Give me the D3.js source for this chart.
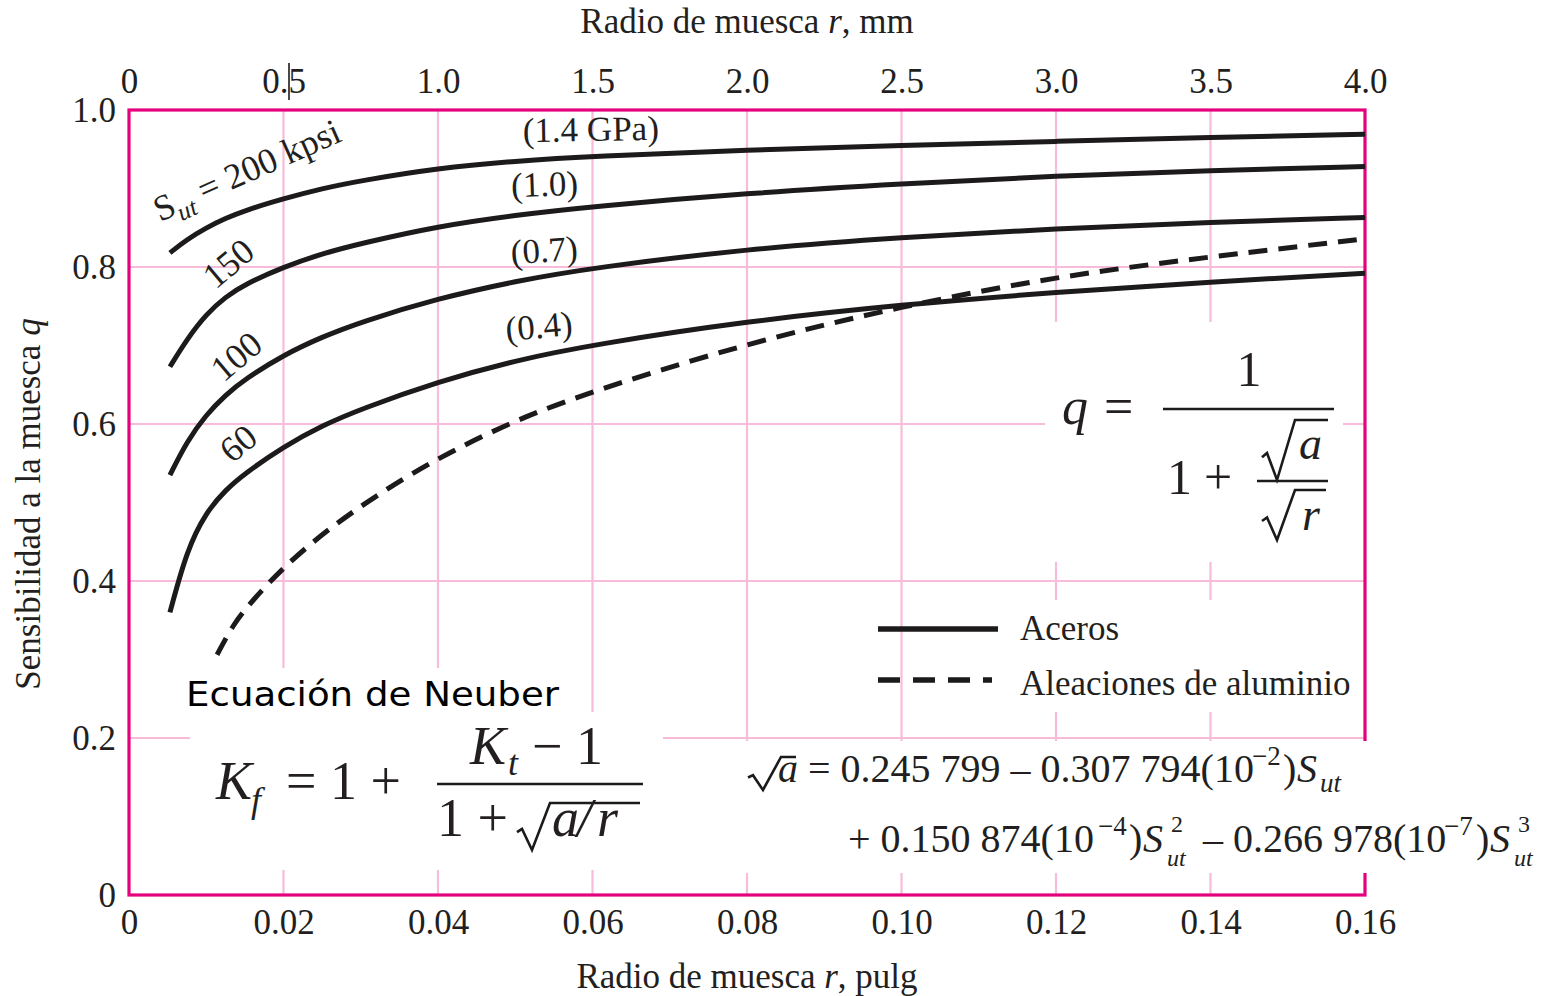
<!DOCTYPE html>
<html>
<head>
<meta charset="utf-8">
<script src="https://cdn.jsdelivr.net/npm/d3@7"></script>
<style>
  body { margin: 0; background: #fff; }
  svg { display: block; }
  .serif { font-family: "Liberation Serif", "Times New Roman", serif; fill: #231f20; }
  .tick text { font-family: "Liberation Serif", "Times New Roman", serif; font-size: 35px; fill: #231f20; }
</style>
</head>
<body>
<div id="chart"></div>
<script>
// notch radius r in inches, and notch sensitivity q
const rSteel = [0.0053, 0.0075, 0.01, 0.0125, 0.015, 0.02, 0.025, 0.03, 0.04, 0.05, 0.06, 0.08, 0.10, 0.12, 0.14, 0.16];
const q200 = [0.818, 0.835, 0.850, 0.862, 0.872, 0.887, 0.900, 0.910, 0.926, 0.935, 0.941, 0.949, 0.955, 0.960, 0.965, 0.969];
const q150 = [0.673, 0.708, 0.740, 0.762, 0.778, 0.800, 0.817, 0.830, 0.852, 0.866, 0.877, 0.894, 0.906, 0.916, 0.923, 0.928];
const q100 = [0.535, 0.578, 0.612, 0.637, 0.657, 0.688, 0.711, 0.730, 0.760, 0.782, 0.799, 0.823, 0.838, 0.849, 0.857, 0.863];
const q60  = [0.360, 0.440, 0.488, 0.516, 0.537, 0.571, 0.598, 0.619, 0.654, 0.681, 0.701, 0.731, 0.752, 0.768, 0.781, 0.792];
const rAlum = [0.0114, 0.0135, 0.0157, 0.02, 0.026, 0.0325, 0.04, 0.05, 0.06, 0.08, 0.10, 0.12, 0.14, 0.16];
const qAlum = [0.306, 0.345, 0.372, 0.418, 0.468, 0.512, 0.557, 0.605, 0.642, 0.703, 0.750, 0.788, 0.813, 0.836];

const ticksIn = [0, 0.02, 0.04, 0.06, 0.08, 0.10, 0.12, 0.14, 0.16];
const ticksMm = [0, 0.5, 1.0, 1.5, 2.0, 2.5, 3.0, 3.5, 4.0];
const ticksQ = [0, 0.2, 0.4, 0.6, 0.8, 1.0];
const kpsiLabels = ["200", "150", "100", "60"];
const gpaLabels = ["(1.4 GPa)", "(1.0)", "(0.7)", "(0.4)"];
const legendLabels = ["Aceros", "Aleaciones de aluminio"];

const W = 1554, H = 996;
const pink = "#f7bcd9", magenta = "#e5007d", ink = "#1c1a1b";

const svg = d3.select("#chart").append("svg")
    .attr("width", W)
    .attr("height", H);
svg.append("rect").attr("width", W).attr("height", H).attr("fill", "#fff");

const x = d3.scaleLinear().domain([0, 0.16]).range([129, 1365]);
const xMm = d3.scaleLinear().domain([0, 4.0]).range([129, 1365]);
const y = d3.scaleLinear().domain([0, 1]).range([895, 110]);

const fmt = d => d === 0 ? "0" : d3.format(".2f")(d);
const fmt1 = d => d === 0 ? "0" : d3.format(".1f")(d);

// grid
svg.append("g").selectAll("line")
    .data(ticksIn.slice(1, -1))
    .enter().append("line")
    .attr("x1", d => x(d)).attr("x2", d => x(d))
    .attr("y1", y(1)).attr("y2", y(0))
    .attr("stroke", pink).attr("stroke-width", 2.2);
svg.append("g").selectAll("line")
    .data(ticksQ.slice(1, -1))
    .enter().append("line")
    .attr("x1", x(0)).attr("x2", x(0.16))
    .attr("y1", d => y(d)).attr("y2", d => y(d))
    .attr("stroke", pink).attr("stroke-width", 2.2);

// frame
svg.append("rect")
    .attr("x", x(0)).attr("y", y(1))
    .attr("width", x(0.16) - x(0)).attr("height", y(0) - y(1))
    .attr("fill", "none").attr("stroke", magenta).attr("stroke-width", 3.2);

// axes (labels only)
const axB = svg.append("g").attr("transform", "translate(0," + y(0) + ")")
    .call(d3.axisBottom(x).tickValues(ticksIn).tickFormat(fmt).tickSize(0).tickPadding(14));
const axT = svg.append("g").attr("transform", "translate(0," + y(1) + ")")
    .call(d3.axisTop(xMm).tickValues(ticksMm).tickFormat(fmt1).tickSize(0).tickPadding(17));
const axL = svg.append("g").attr("transform", "translate(" + x(0) + ",0)")
    .call(d3.axisLeft(y).tickValues(ticksQ).tickFormat(fmt1).tickSize(0).tickPadding(13));
[axB, axT, axL].forEach(a => a.select(".domain").remove());

// stray cursor mark near the 0.5 label
svg.append("line").attr("x1", 289).attr("x2", 289).attr("y1", 63).attr("y2", 100)
    .attr("stroke", ink).attr("stroke-width", 1.6);

// axis titles
const t1 = svg.append("text").attr("class", "serif").attr("x", 747).attr("y", 33)
    .attr("text-anchor", "middle").attr("font-size", 35);
t1.append("tspan").text("Radio de muesca ");
t1.append("tspan").attr("font-style", "italic").text("r");
t1.append("tspan").text(", mm");
const t2 = svg.append("text").attr("class", "serif").attr("x", 747).attr("y", 988)
    .attr("text-anchor", "middle").attr("font-size", 35);
t2.append("tspan").text("Radio de muesca ");
t2.append("tspan").attr("font-style", "italic").text("r");
t2.append("tspan").text(", pulg");
const t3 = svg.append("text").attr("class", "serif")
    .attr("transform", "translate(40,504) rotate(-90)")
    .attr("text-anchor", "middle").attr("font-size", 35);
t3.append("tspan").text("Sensibilidad a la muesca ");
t3.append("tspan").attr("font-style", "italic").text("q");

// curves
const line = d3.line()
    .x(d => x(d[0]))
    .y(d => y(d[1]))
    .curve(d3.curveBasis);

[q200, q150, q100, q60].forEach(qs => {
    svg.append("path")
        .datum(rSteel.map((r, i) => [r, qs[i]]))
        .attr("d", line)
        .attr("fill", "none").attr("stroke", ink).attr("stroke-width", 5);
});
svg.append("path")
    .datum(rAlum.map((r, i) => [r, qAlum[i]]))
    .attr("d", line)
    .attr("fill", "none").attr("stroke", ink).attr("stroke-width", 5)
    .attr("stroke-dasharray", "19,11");

// white boxes behind the annotations
const boxes = [
    [1045, 322, 298, 240],   // q formula
    [1005, 600, 355, 112],   // legend
    [182, 668, 385, 44],     // Ecuacion de Neuber
    [190, 712, 473, 158],    // Kf formula
    [738, 741, 816, 132]     // sqrt(a) formula
];
svg.append("g").selectAll("rect")
    .data(boxes).enter().append("rect")
    .attr("x", d => d[0]).attr("y", d => d[1])
    .attr("width", d => d[2]).attr("height", d => d[3])
    .attr("fill", "#fff");

// curve labels
const kpsiPos = [[160, 222, -24], [228, 263, -40], [236, 356, -40], [238, 443, -40]];
kpsiLabels.forEach((lab, i) => {
    const p = kpsiPos[i];
    const t = svg.append("text").attr("class", "serif").attr("font-size", 36)
        .attr("transform", "translate(" + p[0] + "," + p[1] + ") rotate(" + p[2] + ")");
    if (i === 0) {
        t.append("tspan").text("S");
        t.append("tspan").attr("font-style", "italic").attr("font-size", 25).attr("dy", 8).text("ut");
        t.append("tspan").attr("dy", -8).text(" = " + lab + " kpsi");
    } else {
        t.attr("text-anchor", "middle").attr("dy", "0.35em").text(lab);
    }
});
const gpaPos = [[591, 141, -1], [545, 196, -2], [545, 262, -4], [540, 338, -5]];
gpaLabels.forEach((lab, i) => {
    const p = gpaPos[i];
    svg.append("text").attr("class", "serif").attr("font-size", 35)
        .attr("text-anchor", "middle")
        .attr("transform", "translate(" + p[0] + "," + p[1] + ") rotate(" + p[2] + ")")
        .text(lab);
});

// legend
svg.append("line").attr("x1", 878).attr("x2", 998).attr("y1", 629).attr("y2", 629)
    .attr("stroke", ink).attr("stroke-width", 5.5);
svg.append("line").attr("x1", 878).attr("x2", 992).attr("y1", 680).attr("y2", 680)
    .attr("stroke", ink).attr("stroke-width", 5.5).attr("stroke-dasharray", "22,13");
legendLabels.forEach((lab, i) => {
    svg.append("text").attr("class", "serif").attr("font-size", 35)
        .attr("x", 1020).attr("y", 640 + i * 55).text(lab);
});

// helpers for the formulas
function tx(str, px, py, size, italic, anchor) {
    return svg.append("text").attr("class", "serif")
        .attr("x", px).attr("y", py).attr("font-size", size)
        .attr("font-style", italic ? "italic" : "normal")
        .attr("text-anchor", anchor || "start")
        .text(str);
}
function bar(x1, x2, yy, w) {
    svg.append("line").attr("x1", x1).attr("x2", x2).attr("y1", yy).attr("y2", yy)
        .attr("stroke", ink).attr("stroke-width", w || 2.4);
}
function radical(x0, yTop, yBot, x2) {
    const h = yBot - yTop;
    const p = d3.path();
    p.moveTo(x0, yTop + h * 0.62);
    p.lineTo(x0 + 5, yTop + h * 0.55);
    p.lineTo(x0 + 15, yBot);
    p.lineTo(x0 + 33, yTop);
    p.lineTo(x2, yTop);
    svg.append("path").attr("d", p.toString())
        .attr("fill", "none").attr("stroke", ink).attr("stroke-width", 2.6)
        .attr("stroke-linejoin", "miter");
}

// q = 1 / (1 + sqrt(a)/sqrt(r))
tx("q", 1062, 424, 52, true);
tx("=", 1104, 424, 52, false);
tx("1", 1249, 386, 50, false, "middle");
bar(1163, 1334, 409);
tx("1", 1167, 494, 50, false);
tx("+", 1204, 494, 50, false);
radical(1262, 420, 480, 1328);
tx("a", 1299, 459, 46, true);
bar(1257, 1328, 481);
radical(1262, 490, 540, 1326);
tx("r", 1302, 530, 46, true);

// Ecuacion de Neuber
svg.append("text").attr("x", 186).attr("y", 706)
    .attr("font-family", "'DejaVu Sans', Verdana, sans-serif")
    .attr("font-size", 33).attr("fill", "#000")
    .attr("textLength", 373).attr("lengthAdjust", "spacingAndGlyphs")
    .text("Ecuación de Neuber");

// Kf = 1 + (Kt - 1)/(1 + sqrt(a/r))
tx("K", 216, 799, 54, true);
tx("f", 251, 812, 36, true);
tx("= 1 +", 286, 799, 54, false);
bar(437, 643, 784);
tx("K", 470, 764, 54, true);
tx("t", 508, 775, 36, true);
tx("\u2212 1", 532, 764, 54, false);
tx("1 +", 437, 836, 54, false);
radical(517, 803, 850, 640);
tx("a", 552, 836, 54, true);
tx("/", 577, 836, 54, true);
tx("r", 597, 836, 54, true);

// sqrt(a) polynomial
radical(748, 757, 790, 796);
tx("a", 778, 782, 40, true);
tx("= 0.245 799 \u2013 0.307 794(10", 808, 782, 40, false);
tx("\u22122", 1252, 765, 27, false);
tx(")", 1283, 782, 40, false);
tx("S", 1297, 782, 40, true);
tx("ut", 1320, 792, 27, true);

tx("+  0.150 874(10", 848, 852, 40, false);
tx("\u22124", 1098, 835, 27, false);
tx(")", 1129, 852, 40, false);
tx("S", 1143, 852, 40, true);
tx("2", 1171, 832, 24, false);
tx("ut", 1167, 866, 24, true);
tx("\u2013 0.266 978(10", 1203, 852, 40, false);
tx("\u22127", 1444, 835, 27, false);
tx(")", 1476, 852, 40, false);
tx("S", 1490, 852, 40, true);
tx("3", 1518, 832, 24, false);
tx("ut", 1514, 866, 24, true);
</script>
</body>
</html>
